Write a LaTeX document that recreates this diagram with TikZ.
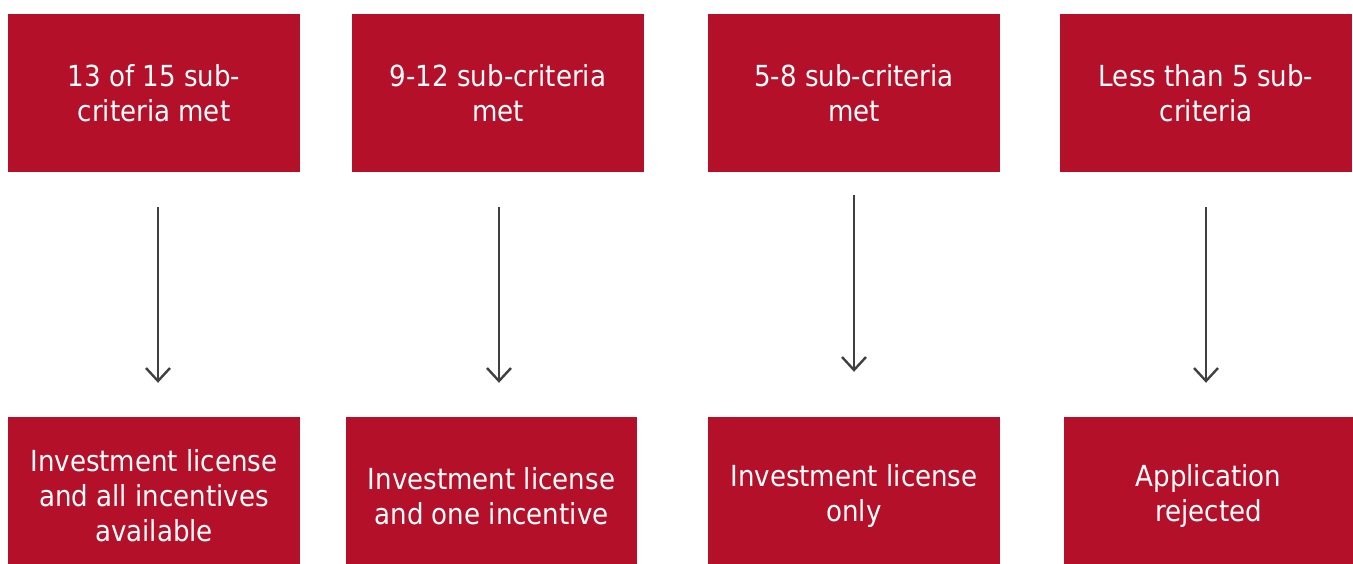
\documentclass[tikz,border=0pt]{standalone}
\usepackage{fontspec}
\setmainfont[FakeStretch=0.9]{DejaVu Sans}
\usetikzlibrary{arrows.meta}
\definecolor{crimson}{HTML}{B5102A}
\definecolor{flechegris}{HTML}{404040}
\begin{document}
\begin{tikzpicture}[x=1pt, y=1pt,
		case/.style={fill=crimson, text=white, align=center, inner sep=0pt,
			minimum width=292pt, minimum height=158pt, font=\fontsize{29}{35}\selectfont},
		fleche/.style={draw=flechegris, line width=2.4pt,
			-{Straight Barb[length=13pt, width=24pt]}}]
		\useasboundingbox (0,0) rectangle (1353,563);
		% critères remplis
		\node[case] (c1) at (154,470) {13 of 15 sub-\\criteria met};
		\node[case] (c2) at (498,470) {9-12 sub-criteria\\met};
		\node[case] (c3) at (854,470) {5-8 sub-criteria\\met};
		\node[case] (c4) at (1206,470) {Less than 5 sub-\\criteria};
		% résultat (coupé en bas)
		\node[case] (r1) at (154,67) {Investment license\\and all incentives\\available};
		\node[case, minimum width=291pt] (r2) at (491.5,67) {Investment license\\and one incentive};
		\node[case] (r3) at (854,67) {Investment license\\only};
		\node[case, minimum width=289pt] (r4) at (1208.5,67) {Application\\rejected};
		% flèches
		\draw[fleche, shorten <=35pt, shorten >=34pt] ([xshift=4pt]c1.south) -- ([xshift=4pt]c1.south |- r1.north);
		\draw[fleche, shorten <=35pt, shorten >=34pt] ([xshift=1pt]c2.south) -- ([xshift=1pt]c2.south |- r2.north);
		\draw[fleche, shorten <=23pt, shorten >=45pt] (c3.south) -- (c3.south |- r3.north);
		\draw[fleche, shorten <=35pt, shorten >=34pt] (c4.south) -- (c4.south |- r4.north);
	\end{tikzpicture}
\end{document}
